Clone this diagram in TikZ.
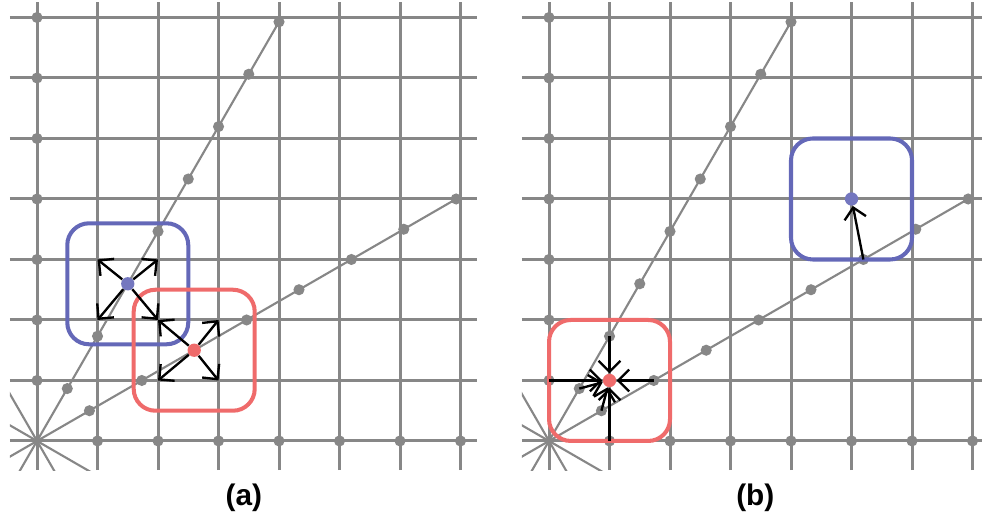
\documentclass[tikz,border=0pt]{standalone}
\usepackage{fontspec}
\setmainfont{Liberation Sans}
\usetikzlibrary{arrows.meta}
\definecolor{gridgray}{HTML}{878787}
\definecolor{winblue}{HTML}{6468B8}
\definecolor{winred}{HTML}{EF6B6B}

% one lattice panel: grid, rays through the origin and their sample points
\newcommand{\latticepanel}{%
  \begin{scope}
    \clip (-0.45,-0.48) rectangle (7.28,7.25);
    \foreach \i in {0,...,7} {
      \draw[gridline] (\i,-0.48) -- (\i,7.25);
      \draw[gridline] (-0.45,\i) -- (7.28,\i);
    }
    \foreach \ang in {120,150} \draw[rayline] (\ang:-2) -- (\ang:2);
    \draw[rayline] (210:1) -- (30:8);
    \draw[rayline] (240:1) -- (60:8);
  \end{scope}
  \foreach \i in {0,...,7}
    \foreach \j in {0,...,7}
      \coordinate (g\i\j) at (\i,\j);
  \foreach \i in {1,...,7} {
    \fill[gridgray] (g\i0) circle (0.092);
    \fill[gridgray] (g0\i) circle (0.092);
  }
  \foreach \r in {1,...,8} {
    \coordinate (s30-\r) at (30:\r);
    \coordinate (s60-\r) at (60:\r);
    \fill[gridgray] (s30-\r) circle (0.092);
    \fill[gridgray] (s60-\r) circle (0.092);
  }
}

\begin{document}
\begin{tikzpicture}[
    gridline/.style={gridgray,line width=1.4pt},
    rayline/.style={gridgray,line width=1pt},
    winbox/.style={rounded corners=0.36cm,line width=1.9pt},
    query/.style={circle,inner sep=0pt,minimum size=0.22cm},
    pull/.style={-{Straight Barb[length=1.8mm,width=3.6mm]},line width=1.1pt},
    caption/.style={font=\fontsize{14}{16}\selectfont\bfseries}
  ]
  \useasboundingbox (-0.612,-1.289) rectangle (15.62,7.289);

  % (a)
  \begin{scope}[name prefix=a-]
    \latticepanel
    \coordinate (qb) at (60:3);
    \coordinate (qr) at (30:3);
    \draw[winbox,winblue] ([shift={(-1,-1)}]qb) rectangle ([shift={(1,1)}]qb);
    \draw[winbox,winred] ([shift={(-1,-1)}]qr) rectangle ([shift={(1,1)}]qr);
    \node[query,fill=winblue!90!white] (blue) at (qb) {};
    \node[query,fill=winred] (red) at (qr) {};
    \foreach \g in {g13,g23,g12,g22} \draw[pull] (blue) -- (\g);
    \foreach \g in {g22,g32,g21,g31} \draw[pull] (red) -- (\g);
    \node[caption] (cap) at (3.42,-0.94) {(a)};
  \end{scope}

  % (b)
  \begin{scope}[xshift=8.463cm,name prefix=b-]
    \latticepanel
    \draw[winbox,winblue] (g43) rectangle (g65);
    \draw[winbox,winred] (g00) rectangle (g22);
    \node[query,fill=winblue!90!white] (blue) at (g54) {};
    \node[query,fill=winred] (red) at (g11) {};
    \draw[pull] (s30-6) -- (blue);
    \foreach \s in {g10,g01,s60-2,s30-2,s60-1,s30-1} \draw[pull] (\s) -- (red);
    \node[caption] (cap) at (3.41,-0.94) {(b)};
  \end{scope}
\end{tikzpicture}
\end{document}
